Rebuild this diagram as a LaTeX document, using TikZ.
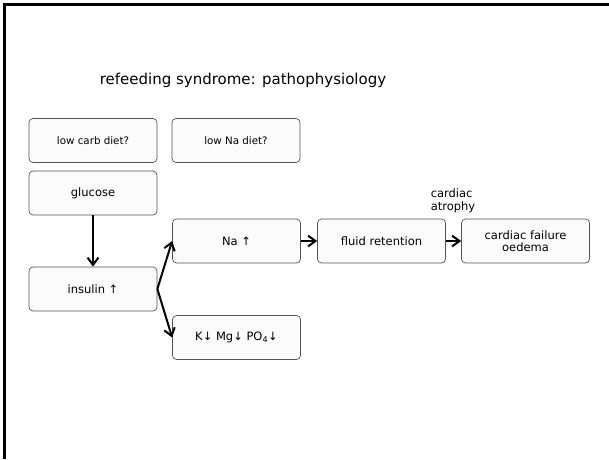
\documentclass[tikz,border=0pt]{standalone}
\usepackage{fontspec}
\setmainfont{DejaVu Sans}
\usetikzlibrary{arrows.meta,positioning}
\tikzset{
  stepbox/.style={rectangle, rounded corners=4pt, draw=gray!65!black, line width=0.7pt, fill=gray!3, minimum width=128pt, minimum height=44pt, inner sep=2pt, align=center, font=\fontsize{11.5}{13.5}\selectfont},
  dietbox/.style={stepbox, font=\fontsize{10.3}{12}\selectfont},
  arrow/.style={-{Straight Barb[length=2.6mm,width=3.8mm]}, line width=2pt},
  note/.style={align=left, inner sep=0pt, font=\fontsize{11.5}{13.5}\selectfont}
}
\begin{document}
\begin{tikzpicture}[x=1pt,y=-1pt]
  \useasboundingbox (0,0) rectangle (609,459);
  \draw[line width=3pt] (4.5,459) -- (4.5,4.5) -- (609,4.5);
  \node[font=\fontsize{15}{18}\selectfont] (title) at (243,80) {refeeding syndrome: pathophysiology};
  \node[dietbox] (carb) at (93,140.5) {low carb diet?};
  \node[dietbox] (nadiet) at (236,140.5) {low Na diet?};
  \node[stepbox] (glucose) at (93,193) {glucose};
  \node[stepbox] (insulin) at (93,289) {insulin ↑};
  \node[stepbox] (na) at (236.5,241) {Na ↑};
  \node[stepbox] (kmg) at (236.5,337.5) {K↓ Mg↓ PO\textsubscript{4}↓};
  \node[stepbox] (fluid) at (381.5,241) {fluid retention};
  \node[stepbox] (failure) at (525.5,241) {cardiac failure\\[-2pt]oedema};
  \node[note] (atrophy) at (453,201) {cardiac\\atrophy};
  \draw[arrow] (glucose)--(insulin);
  \draw[arrow] (insulin.east)--(na.west); \draw[arrow] (insulin.east)--(kmg.west);
  \draw[arrow] (na)--(fluid); \draw[arrow] (fluid)--(failure);
\end{tikzpicture}
\end{document}
